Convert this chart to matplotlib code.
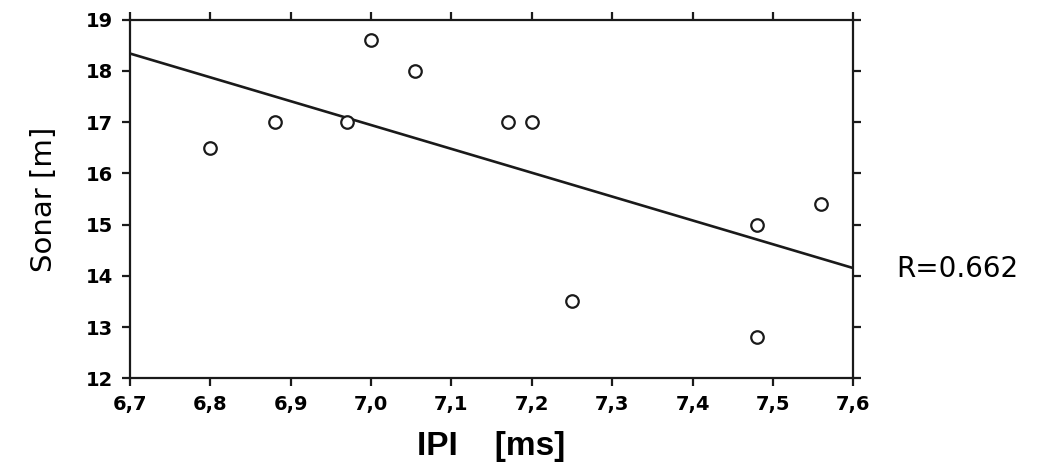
import numpy as np
import matplotlib
matplotlib.use('Agg')
import matplotlib.pyplot as plt

ipi = [6.80, 6.88, 6.97, 7.00, 7.055, 7.17, 7.20, 7.25, 7.48, 7.48, 7.56]
sonar = [16.5, 17.0, 17.0, 18.6, 18.0, 17.0, 17.0, 13.5, 15.0, 12.8, 15.4]
x_ticks = [6.7, 6.8, 6.9, 7.0, 7.1, 7.2, 7.3, 7.4, 7.5, 7.6]
x_labels = ['6,7', '6,8', '6,9', '7,0', '7,1', '7,2', '7,3', '7,4', '7,5', '7,6']
y_ticks = [12, 13, 14, 15, 16, 17, 18, 19]
r_text = 'R=0.662'

# Regressionsgerade
slope, icpt = np.polyfit(ipi, sonar, 1)
fit_x = np.array([x_ticks[0], x_ticks[-1]])
fit_y = slope * fit_x + icpt

fig = plt.figure(figsize=(10.47, 4.71), dpi=100)
ax = fig.add_axes([0.124, 0.197, 0.691, 0.761])

ax.plot(fit_x, fit_y, color='#1a1a1a', lw=1.9)
ax.plot(ipi, sonar, 'o', ms=9, mfc='white', mec='#1a1a1a', mew=1.6)

ax.set_xlim(6.7, 7.6)
ax.set_ylim(12, 19)
ax.set_xticks(x_ticks)
ax.set_xticklabels(x_labels)
ax.set_yticks(y_ticks)

for s in ax.spines.values():
    s.set_linewidth(1.6)
    s.set_color('#1a1a1a')
ax.tick_params(direction='out', length=6, width=1.6, color='#1a1a1a',
               top=True, right=True, labelsize=14, pad=6)
for lab in ax.get_xticklabels() + ax.get_yticklabels():
    lab.set_fontweight('bold')

ax.set_xlabel('IPI    [ms]', fontsize=24, fontweight='bold', labelpad=12,
              family='Liberation Sans')
ax.set_ylabel('Sonar [m]', fontsize=21, labelpad=20, family='DejaVu Sans')

ax.text(1.06, 0.305, r_text, transform=ax.transAxes, fontsize=20,
        va='center', ha='left')

fig.savefig('out.png', dpi=100)
